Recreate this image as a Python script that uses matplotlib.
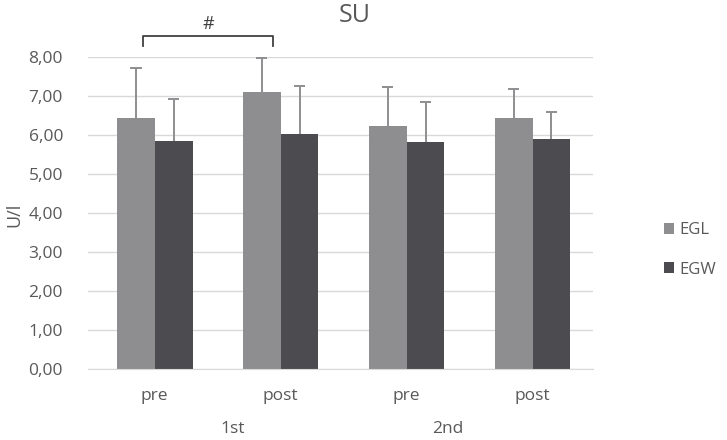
import matplotlib.pyplot as plt
import numpy as np

plt.rcParams['font.family'] = ['Open Sans', 'DejaVu Sans']

labels = ['pre', 'post', 'pre', 'post']
groups = ['1st', '2nd']
egl = [6.44, 7.10, 6.23, 6.44]
egl_sd = [1.28, 0.87, 1.00, 0.74]
egw = [5.85, 6.03, 5.82, 5.90]
egw_sd = [1.07, 1.23, 1.03, 0.69]

txt = '#595959'
c_egl = '#8e8e91'
c_egw = '#4b4b50'
fs = 12.5

fig = plt.figure(figsize=(7.27, 4.40), dpi=100)
ax = fig.add_axes([88/727, 1-369/440, (593-88)/727, (369-57)/440])

x = np.arange(len(labels))
w = 0.3
ax.bar(x - w/2, egl, w, color=c_egl, label='EGL', zorder=2)
ax.bar(x + w/2, egw, w, color=c_egw, label='EGW', zorder=2)

# one-sided error bars (upper only)
for xs, m, sd in [(x - w/2, egl, egl_sd), (x + w/2, egw, egw_sd)]:
    top = np.array(m) + np.array(sd)
    ax.vlines(xs, m, top, color=c_egl, lw=1.4, zorder=3)
    ax.hlines(top, xs - 0.045, xs + 0.045, color=c_egl, lw=1.4, zorder=3)

ax.set_ylim(0, 8)
ax.set_xlim(-0.53, 3.48)
ax.set_yticks(np.arange(0, 9, 1))
ax.set_yticklabels(['%d,00' % v for v in range(9)])
ax.set_xticks(x)
ax.set_xticklabels(labels)
ax.grid(axis='y', color='#d9d9d9', linewidth=1, zorder=0)
for s in ['top', 'right', 'left']:
    ax.spines[s].set_visible(False)
ax.spines['bottom'].set_color('#d9d9d9')
ax.tick_params(length=0, colors=txt, labelsize=fs)
ax.tick_params(axis='x', pad=14)
ax.tick_params(axis='y', pad=18)

ax.text(0.62, -60/312, groups[0], transform=ax.get_xaxis_transform(),
        ha='center', va='center', color=txt, fontsize=fs)
ax.text(2.33, -60/312, groups[1], transform=ax.get_xaxis_transform(),
        ha='center', va='center', color=txt, fontsize=fs)

fig.text(14/727, 1-215/440, 'U/l', rotation=90, ha='center', va='center',
         color=txt, fontsize=13)
fig.text(355/727, 1-15/440, 'SU', ha='center', va='center', color=txt, fontsize=18)

# significance bracket
bx0, bx1 = (143-155)/125.7, (273-155)/125.7
ax.plot([bx0, bx0, bx1, bx1], [8.28, 8.54, 8.54, 8.28], color='#404040',
        lw=1.3, clip_on=False)
ax.text((bx0+bx1)/2, 8.85, '#', ha='center', va='center', color='#404040', fontsize=13)

ax.legend(loc='center left', bbox_to_anchor=(664/727, 1-250/440),
          bbox_transform=fig.transFigure, frameon=False, fontsize=12,
          labelcolor=txt, handlelength=0.6, handleheight=0.6, labelspacing=1.4,
          handletextpad=0.3, borderpad=0, borderaxespad=0)

fig.savefig('out.png', dpi=100)
